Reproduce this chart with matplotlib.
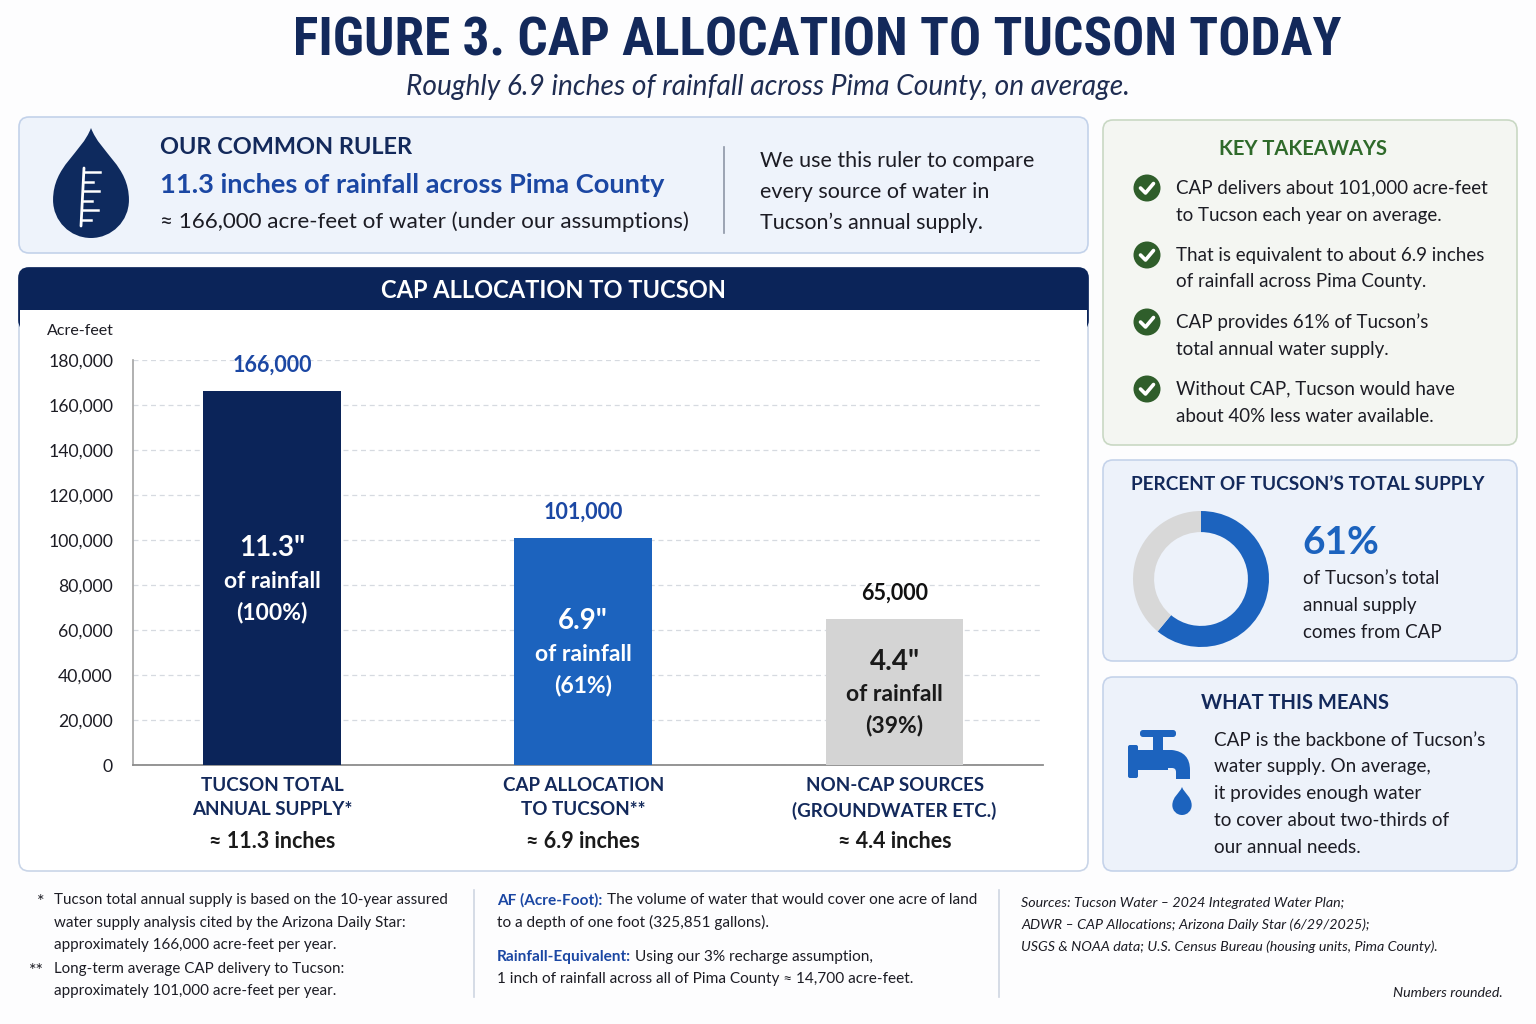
import matplotlib
matplotlib.use('Agg')
import matplotlib.pyplot as plt
from matplotlib import font_manager
from matplotlib.patches import FancyBboxPatch, Rectangle, Circle, PathPatch
from matplotlib.path import Path
from matplotlib.lines import Line2D
from matplotlib.ticker import FuncFormatter
import numpy as np

# ---------------- data ----------------
categories = ['TUCSON TOTAL\nANNUAL SUPPLY*', 'CAP ALLOCATION\nTO TUCSON**',
              'NON-CAP SOURCES\n(GROUNDWATER ETC.)']
acre_feet = [166000, 101000, 65000]
rain_inches = [11.3, 6.9, 4.4]
share_pct = [100, 61, 39]
yticks = list(range(0, 180001, 20000))
donut_values = [61, 39]

title_text = 'FIGURE 3. CAP ALLOCATION TO TUCSON TODAY'
subtitle_text = 'Roughly 6.9 inches of rainfall across Pima County, on average.'
takeaways = [
    ['CAP delivers about 101,000 acre-feet', 'to Tucson each year on average.'],
    ['That is equivalent to about 6.9 inches', 'of rainfall across Pima County.'],
    ['CAP provides 61% of Tucson\u2019s', 'total annual water supply.'],
    ['Without CAP, Tucson would have', 'about 40% less water available.'],
]
means_lines = ['CAP is the backbone of Tucson\u2019s', 'water supply. On average,',
               'it provides enough water', 'to cover about two-thirds of',
               'our annual needs.']
percent_lines = ['of Tucson\u2019s total', 'annual supply', 'comes from CAP']
ruler_right = ['We use this ruler to compare', 'every source of water in',
               'Tucson\u2019s annual supply.']
foot_left = [('*', ['Tucson total annual supply is based on the 10-year assured',
                    'water supply analysis cited by the Arizona Daily Star:',
                    'approximately 166,000 acre-feet per year.']),
             ('**', ['Long-term average CAP delivery to Tucson:',
                     'approximately 101,000 acre-feet per year.'])]
sources = ['Sources: Tucson Water \u2013 2024 Integrated Water Plan;',
           'ADWR \u2013 CAP Allocations; Arizona Daily Star (6/29/2025);',
           'USGS & NOAA data; U.S. Census Bureau (housing units, Pima County).']

# ---------------- fonts & colours ----------------
names = {f.name for f in font_manager.fontManager.ttflist}
BODY = 'Lato' if 'Lato' in names else 'DejaVu Sans'
plt.rcParams['font.family'] = [BODY, 'DejaVu Sans']
TITLE_FONT = BODY
for cand in ['Liberation Sans Narrow', 'DejaVu Sans Condensed', 'Roboto Condensed',
             'Open Sans Condensed']:
    if cand in names:
        TITLE_FONT = cand
        break

NAVY = '#0b2459'
NAVY_T = '#13295b'
BLUE_T = '#1b47a3'
BAR_BLUE = '#1c63be'
GREY_BAR = '#d4d4d4'
DARK = '#1c1c24'
GREEN_T = '#2f6a2b'
GREEN_C = '#2f5e2b'

fig = plt.figure(figsize=(15.36, 10.24), dpi=100)
fig.patch.set_facecolor('#fdfdfe')
bg = fig.add_axes([0, 0, 1, 1])
bg.set_xlim(0, 1536)
bg.set_ylim(1024, 0)
bg.axis('off')

PT = 0.72  # points per pixel


def T(x, y, s, size, color=DARK, weight='normal', ha='left', va='center',
      style='normal', family=None, z=5):
    kw = {}
    if family is not None:
        kw['family'] = family
    return bg.text(x, y, s, fontsize=size, color=color, fontweight=weight, ha=ha,
                   va=va, fontstyle=style, zorder=z, **kw)


def fit(t, width_px):
    r = fig.canvas.get_renderer()
    w = t.get_window_extent(r).width
    if w > 0:
        t.set_fontsize(t.get_fontsize() * width_px / w)


def rbox(x0, y0, x1, y1, fc, ec, r=10, lw=1.2, z=1):
    p = FancyBboxPatch((x0, y0), x1 - x0, y1 - y0,
                       boxstyle=f'round,pad=0,rounding_size={r}',
                       fc=fc, ec=ec, lw=lw, zorder=z)
    bg.add_patch(p)
    return p


def drop(cx, top, bottom, color, z=3):
    r = (bottom - top) * 0.345
    cy = bottom - r
    k = 0.552 * r
    verts = [(cx, top),
             (cx + r * 0.25, top + (cy - top) * 0.35), (cx + r, cy - r * 0.9), (cx + r, cy),
             (cx + r, cy + k), (cx + k, cy + r), (cx, cy + r),
             (cx - k, cy + r), (cx - r, cy + k), (cx - r, cy),
             (cx - r, cy - r * 0.9), (cx - r * 0.25, top + (cy - top) * 0.35), (cx, top),
             (cx, top)]
    codes = [Path.MOVETO] + [Path.CURVE4] * 12 + [Path.CLOSEPOLY]
    bg.add_patch(PathPatch(Path(verts, codes), fc=color, ec='none', zorder=z))


# ---------------- title ----------------
t = T(817, 41, title_text, 40, color=NAVY_T, weight='heavy', ha='center',
      family=[TITLE_FONT, 'DejaVu Sans'])
fit(t, 1047)
t = T(768, 87, subtitle_text, 17, color='#1f2d52', ha='center', style='italic')
fit(t, 725)

# ---------------- ruler box ----------------
rbox(19, 117, 1088, 253, '#eef3fb', '#c3d2ea', r=10)
drop(91, 128, 238, '#0e2a5e')
bg.add_line(Line2D([81, 84], [226, 168], color='white', lw=2, zorder=4,
                   solid_capstyle='round'))
for i, yy in enumerate(np.arange(172, 226, 9.5)):
    ln = 16 if i % 2 == 0 else 10
    xx = 84 - (yy - 168) * 3 / 58
    bg.add_line(Line2D([xx, xx + ln], [yy, yy], color='white', lw=1.8, zorder=4))
T(160, 147, 'OUR COMMON RULER', 16.9, color=NAVY_T, weight='bold')
T(160, 185, '11.3 inches of rainfall across Pima County', 19.6, color=BLUE_T, weight='bold')
T(160, 222, '\u2248 166,000 acre-feet of water (under our assumptions)', 16.1, color=DARK)
bg.add_line(Line2D([724, 724], [147, 233], color='#8d96a6', lw=1.2, zorder=3))
for i, s in enumerate(ruler_right):
    T(760, 161 + 31 * i, s, 15.5, color=DARK)

# ---------------- chart panel ----------------
rbox(19, 268, 1088, 871, 'white', '#c9d5e8', r=10)
rbox(19, 268, 1088, 330, NAVY, NAVY, r=10, z=2)
bg.add_patch(Rectangle((20, 310), 1067, 22, fc='white', ec='none', zorder=2.5))
T(553, 290, 'CAP ALLOCATION TO TUCSON', 17, color='white', weight='bold', ha='center')
T(47, 331, 'Acre-feet', 11.5, color=DARK)

ax = fig.add_axes([133 / 1536, (1024 - 765) / 1024, (1043 - 133) / 1536, (765 - 360) / 1024])
ax.patch.set_alpha(0)
ax.set_zorder(3)
x = np.arange(len(categories))
bar_colors = [NAVY, BAR_BLUE, GREY_BAR]
ax.bar(x, acre_feet, width=0.443, color=bar_colors, zorder=3)
ax.set_xlim(-0.4466, 2.477)
ax.set_ylim(0, 180000)
ax.set_yticks(yticks)
ax.yaxis.set_major_formatter(FuncFormatter(lambda v, p: f'{v:,.0f}'))
ax.yaxis.grid(True, ls=(0, (4, 3)), color='#d6dae0', lw=0.9)
ax.set_axisbelow(True)
for s in ['top', 'right']:
    ax.spines[s].set_visible(False)
ax.spines['left'].set_color('#a3a3a3')
ax.spines['left'].set_linewidth(1.2)
ax.spines['bottom'].set_color('#8c8c8c')
ax.spines['bottom'].set_linewidth(1.3)
ax.tick_params(axis='y', length=0, pad=20 * PT, labelsize=12.7, labelcolor=DARK)
ax.set_xticks(x, labels=categories)
ax.tick_params(axis='x', length=0, pad=12 * PT)
for lab in ax.get_xticklabels():
    lab.set_fontsize(13.5)
    lab.set_fontweight('bold')
    lab.set_color(NAVY_T)
    lab.set_linespacing(1.5)

val_colors = [BLUE_T, BLUE_T, '#111111']
inner_colors = ['white', 'white', '#1a1a1a']
for i, v in enumerate(acre_feet):
    ax.annotate(f'{v:,}', xy=(i, v), xytext=(0, 26 * PT), textcoords='offset points',
                ha='center', va='center', fontsize=15.5, fontweight='bold',
                color=val_colors[i], annotation_clip=False)
    mid = v / 2
    ax.annotate(f'{rain_inches[i]}"', xy=(i, mid), xytext=(0, 30 * PT),
                textcoords='offset points', ha='center', va='center', fontsize=20,
                fontweight='bold', color=inner_colors[i])
    ax.annotate('of rainfall', xy=(i, mid), xytext=(0, -3 * PT), textcoords='offset points',
                ha='center', va='center', fontsize=16.5, fontweight='bold',
                color=inner_colors[i])
    ax.annotate(f'({share_pct[i]}%)', xy=(i, mid), xytext=(0, -34 * PT),
                textcoords='offset points', ha='center', va='center', fontsize=16.5,
                fontweight='bold', color=inner_colors[i])
    ax.annotate(f'\u2248 {rain_inches[i]} inches', xy=(i, 0), xytext=(0, -76 * PT),
                textcoords='offset points', ha='center', va='center', fontsize=15.5,
                fontweight='bold', color='#1a1a1a', annotation_clip=False)

# ---------------- key takeaways ----------------
rbox(1103, 120, 1517, 445, '#f4f6f2', '#c9d8c4', r=10)
T(1303, 149, 'KEY TAKEAWAYS', 14.5, color=GREEN_T, weight='bold', ha='center')
for i, lines in enumerate(takeaways):
    y0 = 188 + 67 * i
    bg.add_patch(Circle((1147, y0), 13.5, fc=GREEN_C, ec='none', zorder=3))
    bg.add_line(Line2D([1140.5, 1145.5, 1153.5], [y0, y0 + 5, y0 - 4.5], color='white',
                       lw=2.6, zorder=4, solid_capstyle='round', solid_joinstyle='round'))
    for j, s in enumerate(lines):
        T(1176, y0 + 27 * j, s, 13.5, color=DARK)

# ---------------- percent box ----------------
rbox(1103, 460, 1517, 661, '#edf2fa', '#c5d3ea', r=10)
T(1131, 485, 'PERCENT OF TUCSON\u2019S TOTAL SUPPLY', 13.7, color=NAVY_T, weight='bold')
dax = fig.add_axes([(1201 - 68) / 1536, (1024 - 579 - 68) / 1024, 136 / 1536, 136 / 1024])
dax.pie(donut_values, colors=[BAR_BLUE, '#d8d8d8'], startangle=90, counterclock=False,
        wedgeprops=dict(width=0.31, edgecolor='none'))
dax.set_xlim(-1, 1)
dax.set_ylim(-1, 1)
dax.set_aspect('equal')
dax.set_zorder(3)
T(1302, 542, f'{donut_values[0]}%', 28, color=BAR_BLUE, weight='bold')
for i, s in enumerate(percent_lines):
    T(1303, 578 + 27 * i, s, 13.5, color=DARK)

# ---------------- what this means ----------------
rbox(1103, 677, 1517, 871, '#edf2fa', '#c5d3ea', r=10)
T(1295, 703, 'WHAT THIS MEANS', 14.5, color=NAVY_T, weight='bold', ha='center')
FC = BAR_BLUE
bg.add_patch(FancyBboxPatch((1140, 730), 36, 7, boxstyle='round,pad=0,rounding_size=3',
                            fc=FC, ec='none', zorder=3))
bg.add_patch(Rectangle((1153, 736), 10, 14, fc=FC, ec='none', zorder=3))
bg.add_patch(FancyBboxPatch((1128, 745), 10, 33, boxstyle='round,pad=0,rounding_size=2',
                            fc=FC, ec='none', zorder=3))
bg.add_patch(Rectangle((1136, 750), 32, 20, fc=FC, ec='none', zorder=3))
spout = Path([(1160, 750), (1172, 750), (1190, 752), (1190, 770), (1190, 779),
              (1176, 779), (1176, 772), (1176, 768), (1172, 768), (1160, 768), (1160, 750)],
             [Path.MOVETO, Path.LINETO, Path.CURVE3, Path.CURVE3, Path.LINETO,
              Path.LINETO, Path.LINETO, Path.CURVE3, Path.CURVE3, Path.LINETO, Path.CLOSEPOLY])
bg.add_patch(PathPatch(spout, fc=FC, ec='none', zorder=3))
drop(1182, 787, 815, FC)
for i, s in enumerate(means_lines):
    T(1214, 740 + 26.8 * i, s, 13.6, color=DARK)

# ---------------- footnotes ----------------
FS = 10.9
for k, (mark, lines) in enumerate(foot_left):
    y0 = 900 if k == 0 else 969
    T(44, y0 + 2, mark, 13, color=DARK, ha='right')
    for j, s in enumerate(lines):
        T(54, y0 + 22.5 * j, s, FS, color=DARK)
bg.add_line(Line2D([474, 474], [890, 997], color='#cfd6e2', lw=1.2))
bg.add_line(Line2D([999, 999], [890, 997], color='#cfd6e2', lw=1.2))

FS2 = 11.1


def mixed(xp, yp, bold, rest):
    tb = bg.text(xp, yp, bold, fontsize=FS2, color=BLUE_T, fontweight='bold', ha='left',
                 va='center', zorder=5)
    bg.annotate(rest, xy=(1, 0.5), xycoords=tb, xytext=(3, 0), textcoords='offset points',
                fontsize=FS2, color=DARK, ha='left', va='center', zorder=5)


mixed(497, 900, 'AF (Acre-Foot):', 'The volume of water that would cover one acre of land')
T(497, 922, 'to a depth of one foot (325,851 gallons).', FS2, color=DARK)
mixed(497, 957, 'Rainfall-Equivalent:', 'Using our 3% recharge assumption,')
T(497, 979, '1 inch of rainfall across all of Pima County \u2248 14,700 acre-feet.', FS2, color=DARK)
for i, s in enumerate(sources):
    T(1021, 903 + 22 * i, s, 10.3, color=DARK, style='italic')
T(1503, 993, 'Numbers rounded.', 10.3, color=DARK, style='italic', ha='right')

fig.savefig('out.png', dpi=100, facecolor=fig.get_facecolor())
